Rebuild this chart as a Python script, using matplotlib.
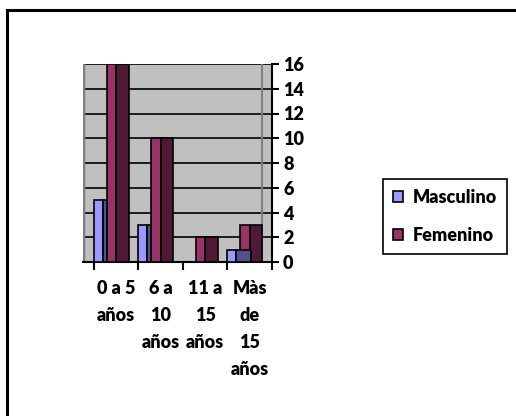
import matplotlib.pyplot as plt
from matplotlib.patches import Patch, Rectangle
import numpy as np

# data
categories = ["0 a 5\naños", "6 a\n10\naños", "11 a\n15\naños", "Màs\nde\n15\naños"]
masculino = [5, 3, 0, 1]
femenino = [16, 10, 2, 3]
yticks = [0, 2, 4, 6, 8, 10, 12, 14, 16]

FONT = ['Lato', 'DejaVu Sans']
plt.rcParams['font.family'] = FONT
plt.rcParams['font.weight'] = 'heavy'

masc_front, masc_side = '#9999FF', '#52528C'
fem_front, fem_side = '#993366', '#4F1A35'

fig = plt.figure(figsize=(5.16, 4.16), dpi=100)
ax = fig.add_axes([83 / 516, 1 - 262 / 416, 189 / 516, 198 / 416])
ax.set_facecolor('#C0C0C0')

x = np.arange(len(categories))

# pseudo 3D columns: front face + darker side face
masc_side_w = [0.09, 0.09, 0.09, 0.32]
ax.bar(x + 0.29, femenino, width=0.21, align='edge', color=fem_front,
       edgecolor='black', linewidth=1.2, zorder=3)
ax.bar(x + 0.50, femenino, width=0.28, align='edge', color=fem_side,
       edgecolor='black', linewidth=1.2, zorder=3)
ax.bar(x, masculino, width=0.2, align='edge', color=masc_front,
       edgecolor='black', linewidth=1.2, zorder=4)
ax.bar(x + 0.2, masculino, width=masc_side_w, align='edge', color=masc_side,
       edgecolor='black', linewidth=1.2, zorder=4)

ax.set_xlim(-0.247, 4.0)
ax.set_ylim(0, 16)

for v in yticks[1:]:
    ax.axhline(v, color='black', linewidth=1.2, zorder=2)
ax.axvline(-0.247, color='#808080', linewidth=2.5, zorder=2)
ax.axvline(3.775, color='#808080', linewidth=1.5, zorder=2)

ax.spines['top'].set_visible(False)
ax.spines['left'].set_visible(False)
ax.spines['right'].set_linewidth(1.5)
ax.spines['bottom'].set_linewidth(1.5)

ax.yaxis.tick_right()
ax.set_yticks(yticks)
ax.tick_params(axis='y', direction='out', length=5, width=1.5, pad=3,
               labelsize=13)

ax.set_xticks(np.arange(len(categories) + 1))
ax.set_xticklabels([])
ax.tick_params(axis='x', which='major', direction='out', length=6, width=1.5)
ax.set_xticks(x + 0.5, minor=True)
ax.set_xticklabels(categories, minor=True, fontsize=13, linespacing=1.72,
                   ha='center', va='top', multialignment='center')
ax.tick_params(axis='x', which='minor', length=0, pad=13)

handles = [Patch(facecolor=masc_front, edgecolor='black', linewidth=1.2),
           Patch(facecolor=fem_front, edgecolor='black', linewidth=1.2)]
leg = fig.legend(handles, ['Masculino', 'Femenino'], loc='upper left',
                 bbox_to_anchor=(383 / 516, 1 - 179 / 416), borderaxespad=0,
                 fancybox=False, edgecolor='black', framealpha=1,
                 prop={'family': FONT, 'weight': 'heavy', 'size': 13},
                 handlelength=0.55, handleheight=0.55, handletextpad=0.55,
                 labelspacing=1.15, borderpad=0.55)
leg.get_frame().set_linewidth(1.2)

# chart area border (top and left visible)
fig.patches.append(Rectangle((7 / 516, -0.1), 1.2, 1 - 10 / 416 + 0.1,
                             transform=fig.transFigure, fill=False,
                             edgecolor='black', linewidth=2.2))

fig.savefig('out.png', dpi=100)
